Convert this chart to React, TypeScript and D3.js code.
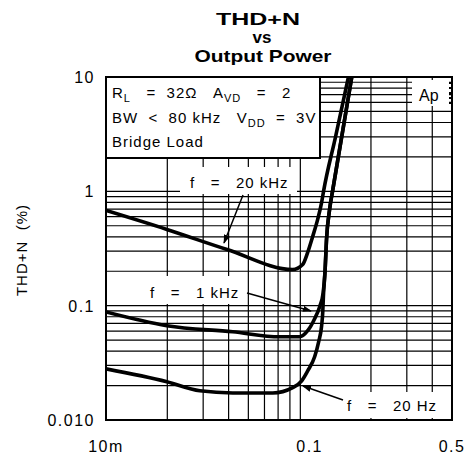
import React from 'react';
import * as d3 from 'd3';

// ---- data ----
const xTickLabels = ['10m', '0.1', '0.5'];
const xTickValues = [0.01, 0.1, 0.5];
const yTickLabels = ['10', '1', '0.1', '0.010'];
const yTickValues = [10, 1, 0.1, 0.01];

const power20k = [0.01, 0.0199, 0.0393, 0.0826, 0.0924, 0.0978, 0.1035, 0.1095, 0.1145, 0.117, 0.134, 0.155];
const thd20k = [0.68, 0.464, 0.31, 0.207, 0.229, 0.292, 0.403, 0.568, 0.8, 1.0, 3.0, 10];

const power1k = [0.01, 0.0199, 0.0419, 0.0713, 0.0893, 0.0978, 0.1058, 0.112, 0.1165, 0.119, 0.121, 0.1253, 0.13, 0.161];
const thd1k = [0.088, 0.0668, 0.0591, 0.0534, 0.0535, 0.0604, 0.0769, 0.098, 0.13, 0.2, 0.379, 0.695, 1.04, 10];

const power20 = [0.01, 0.0199, 0.0289, 0.0419, 0.0659, 0.0826, 0.0914, 0.0978, 0.1058, 0.1107, 0.1145, 0.116, 0.1168, 0.119, 0.121, 0.1253, 0.13, 0.161];
const thd20 = [0.028, 0.0216, 0.018, 0.01725, 0.01725, 0.0192, 0.022, 0.0269, 0.0357, 0.0483, 0.0668, 0.0886, 0.12, 0.2, 0.379, 0.695, 1.04, 10];

const seriesNames = ['f   =   20 kHz', 'f   =   1 kHz', 'f   =   20 Hz'];

const W = 468;
const H = 462;
const L = 106, R = 452, T = 77, B = 420;

export default function App() {
  const x = d3.scaleLog().domain([0.01, 0.5]).range([L, R]);
  const y = d3.scaleLog().domain([0.01, 10]).range([B, T]);

  const vGrid: number[] = [];
  for (let k = 2; k <= 9; k++) vGrid.push(k * 0.01);
  for (let k = 2; k <= 4; k++) vGrid.push(k * 0.1);
  const hGrid: number[] = [];
  [0.01, 0.1, 1].forEach((d) => {
    for (let k = 1; k <= 9; k++) if (!(k === 1 && d === 0.01)) hGrid.push(k * d);
  });

  const line = d3
    .line<[number, number]>()
    .x((d) => x(d[0]))
    .y((d) => y(d[1]))
    .curve(d3.curveMonotoneX);

  const series = [
    power20k.map((p, i) => [p, thd20k[i]] as [number, number]),
    power1k.map((p, i) => [p, thd1k[i]] as [number, number]),
    power20.map((p, i) => [p, thd20[i]] as [number, number]),
  ];

  const txt = { fontFamily: 'Liberation Sans, Arial, sans-serif', fill: '#000' } as const;
  const ann = {
    fontFamily: 'Liberation Sans, Arial, sans-serif',
    fontSize: 15,
    letterSpacing: 1,
    fill: '#000',
    whiteSpace: 'pre',
  } as const;

  return (
    <svg width={W} height={H} style={{ position: 'absolute', left: 0, top: 0, background: '#fff' }}>
      <defs>
        <clipPath id="plot">
          <rect x={L} y={T} width={R - L} height={B - T} />
        </clipPath>
        <marker id="arr" viewBox="0 0 10 10" refX="9" refY="5" markerWidth="9" markerHeight="9" orient="auto" markerUnits="userSpaceOnUse">
          <path d="M0,1.5 L10,5 L0,8.5 Z" fill="#000" />
        </marker>
      </defs>
      <rect x={0} y={0} width={W} height={H} fill="#fff" />

      {/* title */}
      <g style={{ ...txt, fontWeight: 'bold', fontSize: 17 }} textAnchor="middle">
        <text x={258} y={25} textLength={84} lengthAdjust="spacingAndGlyphs">THD+N</text>
        <text x={262} y={43}>vs</text>
        <text x={263} y={62} textLength={137} lengthAdjust="spacingAndGlyphs">Output Power</text>
      </g>

      {/* grid */}
      <g stroke="#000" strokeWidth={1.2}>
        {vGrid.map((v) => (
          <line key={'v' + v} x1={x(v)} x2={x(v)} y1={T} y2={B} />
        ))}
        {hGrid.map((v) => (
          <line key={'h' + v} x1={L} x2={R} y1={y(v)} y2={y(v)} />
        ))}
      </g>

      {/* curves */}
      <g clipPath="url(#plot)" fill="none" stroke="#000" strokeWidth={3.6} strokeLinejoin="round">
        {series.map((s, i) => (
          <path key={i} d={line(s) || ''} />
        ))}
      </g>

      {/* legend box */}
      <rect x={L} y={T} width={214} height={81} fill="#fff" stroke="#000" strokeWidth={2} />
      <g style={ann}>
        <text x={112} y={98} xmlSpace="preserve">
          R<tspan fontSize={11} dy={4}>L</tspan>
          <tspan dy={-4}>{'   =  32Ω   A'}</tspan>
          <tspan fontSize={11} dy={4}>VD</tspan>
          <tspan dy={-4}>{'   =   2'}</tspan>
        </text>
        <text x={112} y={123} xmlSpace="preserve">
          {'BW  <  80 kHz   V'}
          <tspan fontSize={11} dy={4}>DD</tspan>
          <tspan dy={-4}>{'  =  3V'}</tspan>
        </text>
        <text x={112} y={147}>Bridge Load</text>
      </g>

      {/* Ap logo */}
      <rect x={412} y={80} width={37} height={26} fill="#fff" />
      <text x={419} y={101} style={{ ...txt, fontSize: 16 }}>Ap</text>
      <line x1={450} x2={450} y1={82} y2={104} stroke="#000" strokeWidth={2} strokeDasharray="2 3" />

      {/* annotation boxes */}
      <rect x={180} y={167} width={117} height={27} fill="#fff" />
      <rect x={145} y={276} width={100} height={28} fill="#fff" />
      <rect x={340} y={392} width={107} height={26} fill="#fff" />

      <g style={ann}>
        <text x={190} y={188} xmlSpace="preserve">{seriesNames[0]}</text>
        <text x={150} y={298} xmlSpace="preserve">{seriesNames[1]}</text>
        <text x={347} y={411} xmlSpace="preserve">{seriesNames[2]}</text>
      </g>

      {/* arrows */}
      <g stroke="#000" strokeWidth={1.5}>
        <line x1={243} y1={195} x2={224} y2={243} markerEnd="url(#arr)" />
        <line x1={247} y1={293} x2={311} y2={311} markerEnd="url(#arr)" />
        <line x1={343} y1={400} x2={303} y2={386} markerEnd="url(#arr)" />
      </g>

      {/* border */}
      <rect x={L} y={T} width={R - L} height={B - T} fill="none" stroke="#000" strokeWidth={2} />

      {/* tick labels */}
      <g style={{ ...txt, fontSize: 16, letterSpacing: 1.5 }}>
        {yTickValues.map((v, i) => (
          <text key={'yt' + i} x={95} y={y(v) + 6} textAnchor="end">
            {yTickLabels[i]}
          </text>
        ))}
        {xTickValues.map((v, i) => (
          <text key={'xt' + i} x={x(v)} y={452} textAnchor="middle">
            {xTickLabels[i]}
          </text>
        ))}
      </g>

      {/* y axis title */}
      <text transform="translate(27,250) rotate(-90)" textAnchor="middle" style={ann} xmlSpace="preserve">
        {'THD+N  (%)'}
      </text>
    </svg>
  );
}
